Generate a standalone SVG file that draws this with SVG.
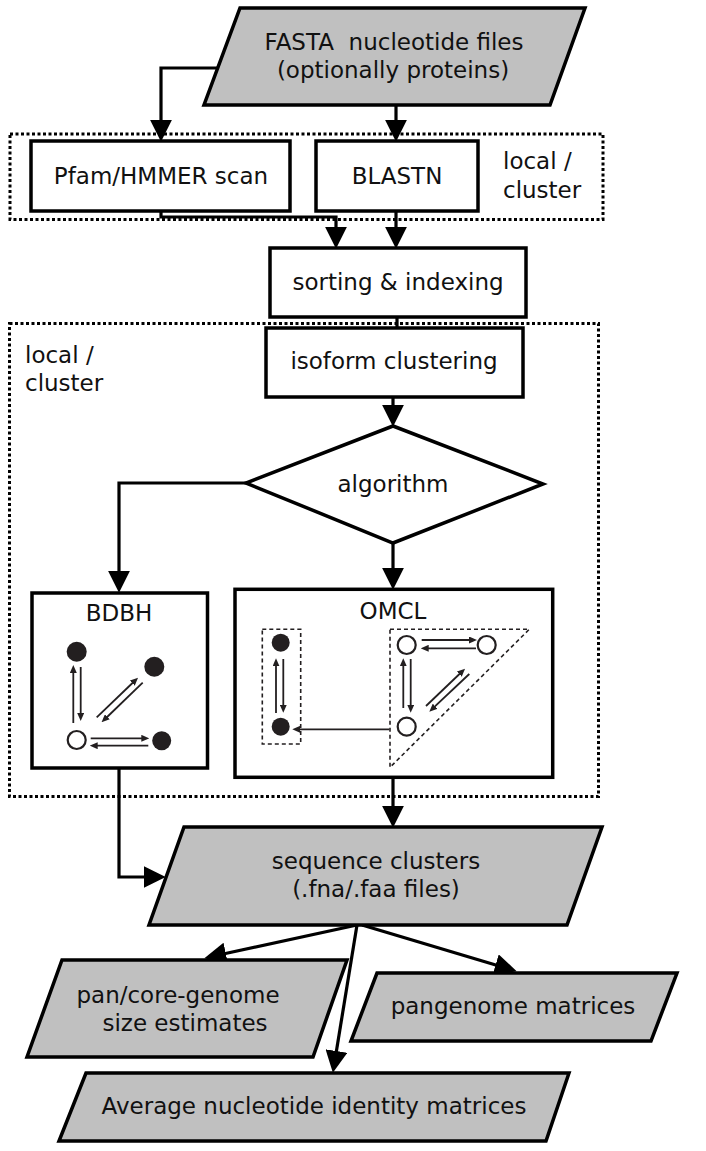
<svg xmlns="http://www.w3.org/2000/svg" width="706" height="1151" viewBox="0 0 706 1151">
<defs>
<style>
text{font-family:"DejaVu Sans","Liberation Sans",sans-serif;font-size:23px;fill:#111;text-anchor:middle}
.lt{text-anchor:start}
.box{fill:#fff;stroke:#000;stroke-width:3.5}
.io{fill:#c0c0c0;stroke:#000;stroke-width:3.5;stroke-linejoin:miter}
.dot{fill:none;stroke:#000;stroke-width:3;stroke-dasharray:3 2.5}
.con{fill:none;stroke:#000;stroke-width:3.2}
.big{marker-end:url(#ah)}
.sm{fill:none;stroke:#231f20;stroke-width:1.8;marker-end:url(#as)}
.dash{fill:none;stroke:#231f20;stroke-width:1.6;stroke-dasharray:4 3}
.fn{fill:#231f20}
.on{fill:#fff;stroke:#231f20;stroke-width:2.2}
</style>
<marker id="ah" markerUnits="userSpaceOnUse" markerWidth="22" markerHeight="22" viewBox="0 0 21 21" refX="6" refY="10.5" orient="auto">
<path d="M0,0 L21,10.5 L0,21 Z" fill="#000"/>
</marker>
<marker id="as" markerUnits="userSpaceOnUse" markerWidth="8" markerHeight="7" viewBox="0 0 8 7" refX="1" refY="3.5" orient="auto">
<path d="M0,0 L8,3.5 L0,7 Z" fill="#231f20"/>
</marker>
</defs>

<g id="region-top">
<rect class="dot" x="10" y="134" width="593" height="85.5"/>
<text class="lt" x="503" y="169">local /</text>
<text class="lt" x="503" y="198">cluster</text>
</g>
<g id="region-mid">
<rect class="dot" x="9.5" y="323.5" width="589" height="473"/>
<text class="lt" x="25" y="363">local /</text>
<text class="lt" x="25" y="391">cluster</text>
</g>

<g id="connectors">
<path class="con big" d="M218,68 H161 V126"/>
<path class="con big" d="M396,105 V126"/>
<path class="con big" d="M161,211 V217 H336 V233"/>
<path class="con big" d="M396,211 V233"/>
<path class="con" d="M397,317 V328"/>
<path class="con big" d="M393,397 V411"/>
<path class="con big" d="M246,483 H119 V577"/>
<path class="con big" d="M393,543 V574"/>
<path class="con big" d="M393,777 V812"/>
<path class="con big" d="M119,768 V877 H150"/>
<path class="con big" d="M357,925 L219.7,954.8"/>
<path class="con big" d="M357,925 L335.4,1057.2"/>
<path class="con big" d="M362,925 L501.6,966.7"/>
</g>

<g id="fasta">
<polygon class="io" points="240,8 585,8 550,105 204,105"/>
<text x="394" y="50">FASTA&#160; nucleotide files</text>
<text x="393" y="78">(optionally proteins)</text>
</g>
<g id="pfam">
<rect class="box" x="31" y="141" width="259" height="70"/>
<text x="161" y="184">Pfam/HMMER scan</text>
</g>
<g id="blastn">
<rect class="box" x="316" y="141" width="162" height="70"/>
<text x="397" y="184">BLASTN</text>
</g>
<g id="sorting">
<rect class="box" x="270" y="248" width="256" height="69"/>
<text x="398" y="290">sorting &amp; indexing</text>
</g>
<g id="isoform">
<rect class="box" x="266" y="328" width="257" height="69"/>
<text x="394" y="369">isoform clustering</text>
</g>
<g id="algorithm">
<polygon class="box" points="393,426 543,484 393,543 246,483"/>
<text x="393" y="492">algorithm</text>
</g>

<g id="bdbh">
<rect class="box" x="32" y="593" width="175.5" height="175"/>
<text x="119" y="621">BDBH</text>
<circle class="fn" cx="76.7" cy="651.7" r="10"/>
<circle class="fn" cx="154.3" cy="666.7" r="10"/>
<circle class="fn" cx="161.7" cy="740.7" r="9.5"/>
<circle class="on" cx="76.7" cy="740" r="9"/>
<path class="sm" d="M73.3,723 V672"/>
<path class="sm" d="M80.7,667 V714"/>
<path class="sm" d="M96.7,717.3 L133,682.5"/>
<path class="sm" d="M142.7,682.7 L106.6,717.5"/>
<path class="sm" d="M90.7,738.3 H142.3"/>
<path class="sm" d="M148.3,745.7 H96.7"/>
</g>

<g id="omcl">
<rect class="box" x="235" y="589.3" width="317.7" height="188"/>
<text x="393" y="619">OMCL</text>
<rect class="dash" x="262.3" y="629.3" width="38.4" height="114.7"/>
<polygon class="dash" points="390,629.3 529.3,629.3 390,767.3"/>
<circle class="fn" cx="280.7" cy="642.7" r="9"/>
<circle class="fn" cx="280.7" cy="726.7" r="9"/>
<circle class="on" cx="406.7" cy="645" r="9"/>
<circle class="on" cx="486.7" cy="645" r="9"/>
<circle class="on" cx="406.7" cy="726.7" r="9"/>
<path class="sm" d="M276,713 V665.3"/>
<path class="sm" d="M283.3,659 V705.7"/>
<path class="sm" d="M421.7,640 H470"/>
<path class="sm" d="M476,648.3 H427.7"/>
<path class="sm" d="M403.3,708 V665.3"/>
<path class="sm" d="M410.7,659 V705.7"/>
<path class="sm" d="M426,706 L460,673.5"/>
<path class="sm" d="M469.3,674 L434.4,706.9"/>
<path class="sm" d="M389.3,729.3 H299.3"/>
</g>

<g id="sequence-clusters">
<polygon class="io" points="184,827 602,827 567,925 149,925"/>
<text x="376" y="869">sequence clusters</text>
<text x="376" y="897">(.fna/.faa files)</text>
</g>
<g id="pancore">
<polygon class="io" points="62,960 347,960 313,1057 27,1057"/>
<text x="178" y="1003">pan/core-genome</text>
<text x="185" y="1031">size estimates</text>
</g>
<g id="pangenome">
<polygon class="io" points="377,973 677,973 651,1041 351,1041"/>
<text x="513" y="1014">pangenome matrices</text>
</g>
<g id="ani">
<polygon class="io" points="86,1073 569,1073 546,1141 59,1141"/>
<text x="314" y="1114">Average nucleotide identity matrices</text>
</g>
</svg>
